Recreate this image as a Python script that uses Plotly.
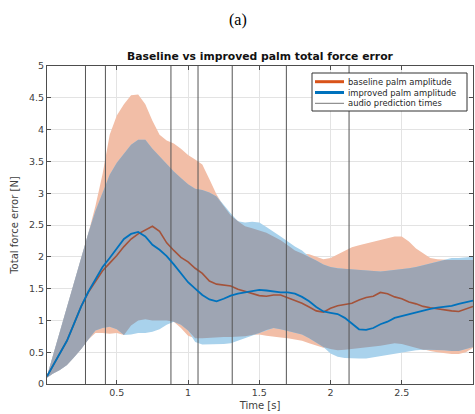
import numpy as np
import plotly.graph_objects as go

time_s = [0.01, 0.05, 0.10, 0.15, 0.20, 0.25, 0.30, 0.35, 0.40, 0.45, 0.50, 0.55, 0.60, 0.65, 0.70, 0.75,
          0.80, 0.85, 0.90, 0.95, 1.00, 1.05, 1.10, 1.15, 1.20, 1.25, 1.30, 1.35, 1.40, 1.45, 1.50, 1.55,
          1.60, 1.65, 1.70, 1.75, 1.80, 1.85, 1.90, 1.95, 2.00, 2.05, 2.10, 2.15, 2.20, 2.25, 2.30, 2.35,
          2.40, 2.45, 2.50, 2.55, 2.60, 2.65, 2.70, 2.75, 2.80, 2.85, 2.90, 2.95, 3.00]

baseline_mean = [0.12, 0.28, 0.48, 0.68, 0.95, 1.22, 1.44, 1.62, 1.78, 1.90, 2.02, 2.16, 2.28, 2.36, 2.42, 2.48,
                 2.40, 2.22, 2.10, 1.99, 1.92, 1.82, 1.74, 1.62, 1.57, 1.56, 1.54, 1.49, 1.46, 1.43, 1.39, 1.38,
                 1.40, 1.40, 1.36, 1.32, 1.27, 1.21, 1.15, 1.13, 1.19, 1.23, 1.25, 1.27, 1.32, 1.36, 1.38, 1.44,
                 1.42, 1.37, 1.34, 1.29, 1.26, 1.22, 1.20, 1.18, 1.16, 1.15, 1.14, 1.18, 1.22]

improved_mean = [0.12, 0.28, 0.48, 0.68, 0.95, 1.22, 1.45, 1.64, 1.84, 1.98, 2.14, 2.28, 2.36, 2.39, 2.32, 2.19,
                 2.11, 2.01, 1.88, 1.74, 1.60, 1.50, 1.40, 1.33, 1.30, 1.34, 1.39, 1.42, 1.44, 1.46, 1.48, 1.47,
                 1.45, 1.44, 1.44, 1.42, 1.37, 1.30, 1.21, 1.14, 1.12, 1.10, 1.04, 0.95, 0.86, 0.85, 0.88, 0.94,
                 0.98, 1.04, 1.07, 1.10, 1.13, 1.15, 1.18, 1.20, 1.21, 1.23, 1.26, 1.28, 1.31]

baseline_upper = [0.12, 0.43, 0.82, 1.21, 1.60, 1.99, 2.37, 2.80, 3.30, 3.92, 4.22, 4.40, 4.54, 4.55, 4.40, 4.14,
                  3.92, 3.83, 3.78, 3.70, 3.60, 3.53, 3.45, 3.22, 2.98, 2.80, 2.65, 2.56, 2.48, 2.45, 2.42, 2.38,
                  2.32, 2.26, 2.18, 2.10, 2.05, 2.04, 2.00, 1.96, 1.98, 2.04, 2.10, 2.15, 2.18, 2.21, 2.24, 2.27,
                  2.30, 2.32, 2.32, 2.24, 2.13, 2.05, 1.98, 1.96, 1.95, 1.95, 1.95, 1.95, 1.95]

baseline_lower = [0.10, 0.16, 0.22, 0.30, 0.42, 0.55, 0.70, 0.80, 0.80, 0.79, 0.80, 0.77, 0.92, 1.00, 1.02, 1.00,
                  1.00, 1.00, 0.98, 0.88, 0.76, 0.72, 0.72, 0.73, 0.74, 0.74, 0.74, 0.74, 0.75, 0.77, 0.78, 0.76,
                  0.74, 0.73, 0.72, 0.70, 0.68, 0.64, 0.60, 0.57, 0.55, 0.53, 0.54, 0.55, 0.57, 0.58, 0.59, 0.60,
                  0.62, 0.64, 0.63, 0.60, 0.57, 0.54, 0.52, 0.50, 0.48, 0.47, 0.47, 0.50, 0.57]

improved_upper = [0.12, 0.43, 0.82, 1.21, 1.60, 1.99, 2.37, 2.72, 3.02, 3.29, 3.48, 3.62, 3.76, 3.84, 3.84, 3.70,
                  3.58, 3.47, 3.34, 3.24, 3.14, 3.07, 3.05, 3.01, 2.95, 2.82, 2.68, 2.56, 2.54, 2.55, 2.54, 2.47,
                  2.40, 2.32, 2.24, 2.16, 2.10, 2.00, 1.94, 1.88, 1.84, 1.82, 1.81, 1.80, 1.79, 1.78, 1.77, 1.77,
                  1.78, 1.79, 1.80, 1.82, 1.84, 1.87, 1.90, 1.93, 1.96, 1.98, 1.98, 1.99, 2.00]

improved_lower = [0.10, 0.16, 0.22, 0.30, 0.42, 0.55, 0.70, 0.84, 0.88, 0.90, 0.86, 0.77, 0.78, 0.80, 0.80, 0.82,
                  0.86, 0.93, 0.98, 0.93, 0.84, 0.66, 0.62, 0.62, 0.62, 0.63, 0.64, 0.68, 0.72, 0.76, 0.80, 0.85,
                  0.88, 0.86, 0.83, 0.81, 0.78, 0.72, 0.65, 0.58, 0.48, 0.43, 0.41, 0.40, 0.40, 0.40, 0.42, 0.44,
                  0.46, 0.48, 0.50, 0.52, 0.53, 0.54, 0.54, 0.54, 0.53, 0.52, 0.52, 0.55, 0.58]

audio_times = [0.28, 0.42, 0.88, 1.07, 1.31, 1.69, 2.13]

x_ticks = [0.5, 1, 1.5, 2, 2.5, 3]
y_ticks = [0, 0.5, 1, 1.5, 2, 2.5, 3, 3.5, 4, 4.5, 5]

legend_labels = ["baseline palm amplitude", "improved palm amplitude", "audio prediction times"]

SALMON = "#F2BEA7"
LIGHTBLUE = "#A9D2EC"
OVERLAP = "#9EA5B3"
ORANGE = "#D95319"
BLUE = "#0072BD"
BROWN = "#A4533A"
VLINE = "#555555"

ov_lo = np.maximum(baseline_lower, improved_lower)
ov_hi = np.minimum(baseline_upper, improved_upper)

fig = go.Figure()


def band(lo, hi, color):
    fig.add_trace(go.Scatter(x=time_s, y=lo, mode="lines", line=dict(width=0), showlegend=False, hoverinfo="skip"))
    fig.add_trace(go.Scatter(x=time_s, y=hi, mode="lines", line=dict(width=0), fill="tonexty",
                             fillcolor=color, showlegend=False, hoverinfo="skip"))


band(baseline_lower, baseline_upper, SALMON)
band(improved_lower, improved_upper, LIGHTBLUE)
band(ov_lo, ov_hi, OVERLAP)

fig.add_trace(go.Scatter(x=time_s, y=baseline_mean, mode="lines", line=dict(color=BROWN, width=1.6),
                         showlegend=False))

vx, vy = [], []
for t in audio_times:
    vx += [t, t, None]
    vy += [0, 5, None]
fig.add_trace(go.Scatter(x=vx, y=vy, mode="lines", line=dict(color=VLINE, width=1), showlegend=False))

fig.add_trace(go.Scatter(x=time_s, y=improved_mean, mode="lines", line=dict(color=BLUE, width=1.8),
                         showlegend=False))

axis_common = dict(showgrid=True, gridcolor="#E3E3E3", gridwidth=1, showline=True, linecolor="#4D4D4D",
                   linewidth=1, mirror="ticks", ticks="inside", ticklen=4, tickcolor="#4D4D4D",
                   tickfont=dict(family="DejaVu Sans", size=9.5, color="#404040"), zeroline=False)

# plot-area geometry in pixels (for the hand-drawn legend box)
L, R, T, B = 47, 473, 66, 384
W, H = R - L, B - T


def px(xp):
    return (xp - L) / W


def py(yp):
    return (B - yp) / H


shapes = [dict(type="rect", xref="paper", yref="paper", x0=px(312), x1=px(467), y0=py(111), y1=py(73),
               fillcolor="white", line=dict(color="#333333", width=1), layer="above")]
legend_styles = [(ORANGE, 3), (BLUE, 3), ("#777777", 1)]
annotations = []
for i, (lab, (col, w)) in enumerate(zip(legend_labels, legend_styles)):
    yy = 81.7 + i * 10.8
    shapes.append(dict(type="line", xref="paper", yref="paper", x0=px(315), x1=px(344), y0=py(yy), y1=py(yy),
                       line=dict(color=col, width=w), layer="above"))
    annotations.append(dict(text=lab, xref="paper", yref="paper", x=px(346), y=py(yy), xanchor="left",
                            yanchor="middle", showarrow=False,
                            font=dict(family="DejaVu Sans", size=8.4, color="#262626")))

annotations.append(dict(text="(a)", xref="paper", yref="paper", x=px(238), y=py(20), xanchor="center",
                        yanchor="middle", showarrow=False,
                        font=dict(family="Liberation Serif", size=16, color="#000000")))

fig.update_layout(
    width=475, height=414,
    margin=dict(l=L, r=475 - R, t=T, b=414 - B),
    paper_bgcolor="white", plot_bgcolor="white",
    showlegend=False,
    font=dict(family="DejaVu Sans", color="#262626"),
    title=dict(text="<b>Baseline vs improved palm total force error</b>", x=260 / 475, xanchor="center",
               y=1 - 56 / 414, yanchor="middle", font=dict(size=10.8, color="#111111")),
    xaxis=dict(range=[0.01, 3], tickvals=x_ticks, ticktext=[f"{v:g}" for v in x_ticks],
               title=dict(text="Time [s]", font=dict(size=10, color="#404040"), standoff=4), **axis_common),
    yaxis=dict(range=[0, 5], tickvals=y_ticks, ticktext=[f"{v:g}" for v in y_ticks],
               title=dict(text="Total force error [N]", font=dict(size=10, color="#404040"), standoff=8),
               **axis_common),
    shapes=shapes,
    annotations=annotations,
)

fig.write_html("out.html")
